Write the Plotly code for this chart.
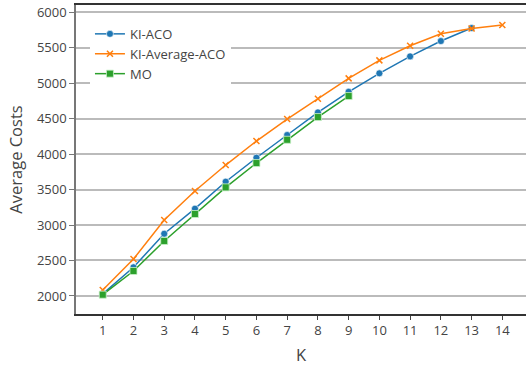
import plotly.graph_objects as go

k_aco = list(range(1, 14))
ki_aco = [2030, 2404, 2877, 3230, 3610, 3948, 4268, 4587, 4877, 5137, 5376, 5592, 5775]
k_avg = list(range(1, 15))
ki_avg = [2085, 2520, 3070, 3480, 3845, 4183, 4493, 4779, 5066, 5320, 5525, 5694, 5770, 5817]
k_mo = list(range(1, 10))
mo = [2018, 2352, 2775, 3155, 3530, 3873, 4201, 4521, 4817]

fig = go.Figure()
fig.add_trace(go.Scatter(x=k_aco, y=ki_aco, name="KI-ACO", mode="lines+markers",
                         line=dict(color="#1f77b4", width=1.5),
                         marker=dict(symbol="circle", size=7, color="#1f77b4",
                                     line=dict(color="rgba(255,255,255,0.6)", width=1))))
fig.add_trace(go.Scatter(x=k_avg, y=ki_avg, name="KI-Average-ACO", mode="lines+markers",
                         line=dict(color="#ff7f0e", width=1.5),
                         marker=dict(symbol="x-thin", size=6, color="#ff7f0e",
                                     line=dict(color="#ff7f0e", width=1.5))))
fig.add_trace(go.Scatter(x=k_mo, y=mo, name="MO", mode="lines+markers",
                         line=dict(color="#2ca02c", width=1.5),
                         marker=dict(symbol="square", size=7, color="#2ca02c",
                                     line=dict(color="rgba(200,240,200,0.8)", width=1))))

fig.update_layout(
    width=526, height=366,
    margin=dict(l=76, r=0, t=5, b=52),
    paper_bgcolor="white", plot_bgcolor="white",
    font=dict(family="Open Sans", size=13, color="#444"),
    legend=dict(x=0.031, y=0.955, xanchor="left", yanchor="top",
                bgcolor="white", font=dict(size=13, color="#444"),
                tracegroupgap=0, itemwidth=30),
    xaxis=dict(range=[0.13, 14.77], tickmode="array", tickvals=list(range(1, 15)),
               ticks="outside", ticklen=4, tickcolor="#444",
               showline=True, linecolor="#333", linewidth=1.5, mirror=True,
               showgrid=False, zeroline=False,
               title=dict(text="K", font=dict(size=16.5, color="#444"), standoff=13)),
    yaxis=dict(range=[1746, 6100], tickmode="array",
               tickvals=[2000, 2500, 3000, 3500, 4000, 4500, 5000, 5500, 6000],
               ticks="outside", ticklen=5, tickcolor="#777",
               showline=True, linecolor="#777", linewidth=1.5,
               showgrid=True, gridcolor="#bbbbbb", gridwidth=1.5, zeroline=False,
               title=dict(text="Average Costs", font=dict(size=16.5, color="#444"), standoff=10)),
    showlegend=True,
)

fig.write_html("out.html")
